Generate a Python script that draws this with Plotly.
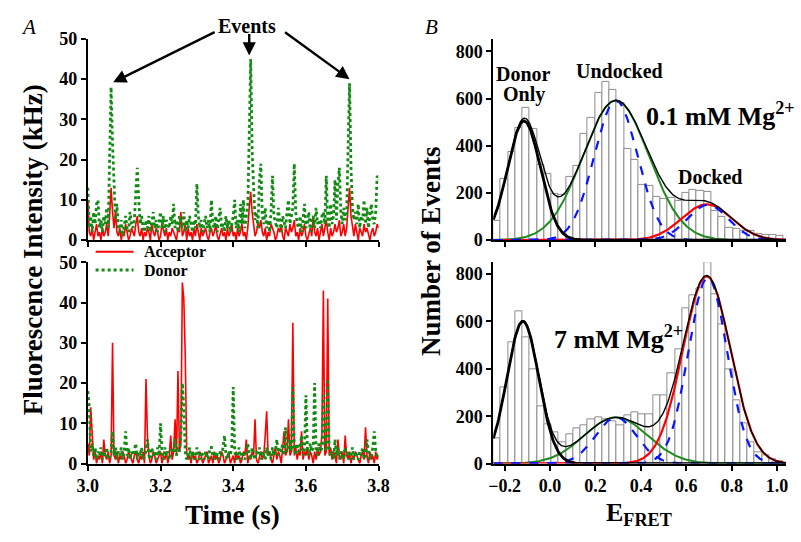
import numpy as np
import plotly.graph_objects as go

# ---------------- fluorescence traces (4 ms bins) ----------------
t_start, t_step, n_bins = 3.0, 0.004, 201
time_s = [round(t_start + t_step * i, 3) for i in range(n_bins)]

# 0.1 mM Mg2+ trace (upper panel), kHz
donor_low = [
    13, 3, 6, 2, 7, 4, 9, 10, 3, 5, 2, 6, 4, 8, 3, 26, 38, 24, 12, 5,
    9, 3, 2, 5, 1, 4, 6, 3, 2, 7, 4, 3, 5, 12, 18, 10, 4, 6, 3, 2,
    5, 3, 6, 2, 4, 7, 3, 5, 2, 4, 7, 3, 6, 2, 5, 4, 3, 6, 4, 9,
    3, 5, 2, 6, 4, 3, 7, 2, 5, 3, 6, 4, 2, 5, 3, 14, 6, 3, 5, 2,
    4, 6, 3, 5, 2, 10, 4, 3, 6, 2, 5, 8, 3, 4, 2, 6, 3, 5, 2, 4,
    6, 10, 3, 5, 2, 9, 4, 10, 3, 6, 8, 26, 45, 22, 12, 5, 7, 3, 15, 19,
    6, 4, 8, 3, 5, 2, 7, 16, 6, 4, 3, 8, 5, 2, 6, 4, 3, 7, 10, 4,
    6, 8, 19, 7, 4, 3, 6, 2, 5, 9, 3, 4, 7, 2, 5, 6, 3, 8, 4, 5,
    3, 6, 7, 4, 16, 5, 3, 9, 4, 6, 15, 5, 14, 18, 7, 4, 8, 5, 6, 26,
    39, 18, 8, 5, 7, 4, 9, 3, 6, 5, 10, 4, 8, 3, 6, 9, 5, 4, 7, 16, 15,
]
acceptor_low = [
    10, 2, 1, 3, 0, 2, 4, 1, 2, 0, 3, 1, 2, 4, 1, 6, 13, 7, 3, 7,
    2, 1, 3, 0, 2, 1, 4, 2, 0, 1, 3, 2, 1, 4, 6, 2, 1, 3, 0, 2,
    1, 3, 2, 0, 4, 2, 1, 3, 2, 0, 1, 4, 2, 1, 3, 0, 2, 1, 3, 2,
    1, 0, 3, 2, 7, 1, 2, 4, 0, 3, 1, 2, 0, 3, 1, 4, 2, 0, 3, 1,
    2, 3, 1, 0, 2, 3, 1, 2, 4, 1, 0, 2, 3, 1, 2, 0, 3, 1, 2, 4,
    1, 2, 0, 3, 1, 2, 4, 1, 2, 0, 3, 8, 12, 7, 3, 1, 2, 4, 3, 5,
    2, 1, 3, 0, 2, 1, 4, 3, 2, 0, 1, 3, 2, 4, 1, 0, 3, 2, 1, 4,
    2, 3, 5, 1, 2, 0, 3, 1, 2, 4, 1, 0, 2, 3, 1, 6, 2, 1, 3, 0,
    2, 4, 1, 3, 5, 2, 0, 3, 1, 2, 4, 2, 3, 5, 1, 2, 4, 1, 3, 8,
    13, 6, 3, 1, 4, 2, 0, 3, 2, 1, 4, 2, 3, 1, 0, 2, 3, 1, 2, 4, 3,
]

# 7 mM Mg2+ trace (lower panel), kHz
donor_high = [
    18, 14, 3, 5, 2, 4, 1, 3, 2, 4, 1, 3, 2, 4, 1, 2, 3, 8, 2, 4,
    1, 3, 2, 4, 1, 3, 8, 2, 4, 1, 3, 2, 4, 5, 1, 3, 2, 4, 1, 2,
    3, 6, 2, 1, 4, 2, 3, 1, 4, 2, 10, 3, 1, 4, 2, 3, 1, 2, 4, 3,
    6, 2, 4, 3, 7, 20, 14, 3, 1, 2, 4, 1, 3, 2, 1, 4, 2, 1, 3, 2,
    1, 3, 2, 1, 4, 4, 2, 1, 3, 2, 1, 3, 2, 4, 7, 2, 1, 3, 2, 4,
    19, 3, 1, 2, 4, 1, 3, 2, 1, 3, 5, 2, 1, 4, 2, 1, 3, 2, 4, 1,
    3, 2, 1, 4, 2, 3, 1, 4, 2, 3, 6, 2, 4, 3, 5, 2, 9, 3, 4, 6,
    3, 19, 4, 2, 5, 3, 4, 7, 2, 3, 17, 4, 2, 5, 3, 4, 20, 3, 2, 5,
    3, 4, 17, 5, 3, 21, 4, 2, 3, 1, 6, 2, 4, 1, 3, 2, 1, 4, 2, 3,
    1, 2, 4, 1, 3, 2, 1, 3, 2, 4, 1, 2, 6, 3, 1, 2, 4, 8, 3, 2, 1,
]
acceptor_high = [
    5, 2, 14, 8, 1, 3, 0, 2, 1, 3, 0, 6, 2, 1, 3, 0, 2, 30, 2, 1,
    3, 0, 2, 1, 3, 2, 0, 1, 3, 2, 1, 0, 2, 3, 1, 0, 2, 1, 3, 0,
    21, 7, 2, 0, 1, 3, 2, 0, 1, 2, 3, 0, 2, 1, 3, 0, 2, 7, 1, 3,
    11, 2, 23, 3, 5, 45, 41, 27, 3, 1, 2, 0, 3, 1, 2, 0, 1, 3, 2, 0,
    1, 2, 3, 0, 1, 2, 0, 3, 1, 2, 0, 1, 3, 2, 0, 1, 2, 3, 0, 1,
    2, 0, 3, 1, 2, 0, 1, 3, 2, 6, 0, 2, 1, 3, 2, 11, 1, 0, 2, 3,
    1, 2, 7, 13, 2, 3, 1, 0, 2, 4, 1, 3, 2, 0, 4, 8, 2, 3, 11, 2,
    3, 35, 2, 4, 1, 3, 2, 8, 1, 3, 2, 4, 1, 3, 2, 0, 3, 1, 4, 2,
    3, 7, 43, 2, 3, 41, 2, 4, 1, 3, 2, 0, 6, 2, 1, 3, 0, 7, 2, 1,
    3, 0, 2, 1, 3, 2, 1, 0, 2, 3, 1, 9, 2, 0, 3, 1, 2, 0, 3, 1, 2,
]

# ---------------- E_FRET histograms ----------------
bin_start, bin_width, n_hist = -0.25, 0.032, 40
efret_centers = [round(bin_start + bin_width * (i + 0.5), 4) for i in range(n_hist)]

counts_low = [
    82, 258, 374, 476, 562, 473, 321, 280, 195, 190,
    270, 314, 449, 520, 626, 670, 637, 580, 385, 340,
    235, 231, 184, 174, 181, 167, 200, 212, 208, 205,
    126, 100, 52, 48, 38, 40, 25, 22, 22, 18,
]
counts_high = [
    108, 321, 510, 643, 534, 396, 243, 165, 130, 90,
    122, 150, 160, 188, 195, 185, 180, 162, 205, 216,
    208, 210, 287, 290, 380, 480, 655, 710, 740, 847,
    714, 588, 396, 268, 172, 90, 48, 35, 18, 10,
]

# Gaussian fit components: (amplitude, centre, sigma)
fit_low = {
    "donor_only": (505, -0.115, 0.072),
    "undocked": (592, 0.29, 0.145),
    "undocked_narrow": (592, 0.29, 0.095),
    "docked": (152, 0.69, 0.11),
    "docked_narrow": (150, 0.695, 0.09),
}
fit_high = {
    "donor_only": (600, -0.12, 0.07),
    "undocked": (195, 0.29, 0.14),
    "undocked_narrow": (195, 0.29, 0.09),
    "docked": (790, 0.69, 0.105),
    "docked_narrow": (785, 0.695, 0.085),
}

E_RANGE = [-0.25, 1.04]
e_grid = np.linspace(E_RANGE[0], E_RANGE[1], 400)


def gauss(params):
    a, mu, s = params
    return a * np.exp(-((e_grid - mu) ** 2) / (2 * s ** 2))


W, H = 801, 542
SERIF = "Liberation Serif"
RED = "#ff0000"
GREEN = "#138a13"
BLUE = "#0a14ff"
DARKGREEN = "#1f8a1f"

fig = go.Figure()

# traces: upper and lower fluorescence panels
for acc, don, xa, ya in [
    (acceptor_low, donor_low, "x", "y"),
    (acceptor_high, donor_high, "x2", "y2"),
]:
    fig.add_trace(go.Scatter(x=time_s, y=acc, mode="lines", name="Acceptor",
                             line=dict(color=RED, width=1.6),
                             xaxis=xa, yaxis=ya, showlegend=False))
    fig.add_trace(go.Scatter(x=time_s, y=don, mode="lines", name="Donor",
                             line=dict(color=GREEN, width=2.8, dash="dot"),
                             xaxis=xa, yaxis=ya, showlegend=False))

# histograms with fitted components
for counts, fit, xa, ya in [
    (counts_low, fit_low, "x3", "y3"),
    (counts_high, fit_high, "x4", "y4"),
]:
    fig.add_trace(go.Bar(x=efret_centers, y=counts, width=bin_width,
                         marker=dict(color="white", line=dict(color="#8c8c8c", width=1)),
                         xaxis=xa, yaxis=ya, showlegend=False))
    total = gauss(fit["donor_only"]) + gauss(fit["undocked"]) + gauss(fit["docked"])
    comps = [
        (gauss(fit["undocked"]), dict(color=DARKGREEN, width=2)),
        (gauss(fit["docked"]), dict(color=RED, width=2.2)),
        (gauss(fit["undocked_narrow"]), dict(color=BLUE, width=2.2, dash="dash")),
        (gauss(fit["docked_narrow"]), dict(color=BLUE, width=2.2, dash="dash")),
        (gauss(fit["donor_only"]), dict(color="black", width=2.8)),
        (total, dict(color="black", width=1.4)),
    ]
    for yv, ln in comps:
        fig.add_trace(go.Scatter(x=e_grid, y=yv, mode="lines", line=ln,
                                 xaxis=xa, yaxis=ya, showlegend=False))

tickfont = dict(family=SERIF, size=18, color="black", weight="bold")
axis_common = dict(showline=True, linecolor="black", linewidth=2, ticks="outside",
                   ticklen=5, tickwidth=2, tickcolor="black", showgrid=False,
                   zeroline=False, tickfont=tickfont)

left_dom = [79 / W, 378 / W]
right_dom = [496 / W, 797 / W]
top_dom = [1 - 239 / H, 1 - 30 / H]
bot_dom = [1 - 471 / H, 1 - 262 / H]

fig.update_layout(
    width=W, height=H,
    margin=dict(l=0, r=0, t=0, b=0),
    paper_bgcolor="white", plot_bgcolor="white",
    bargap=0, showlegend=False,
    xaxis=dict(domain=left_dom, anchor="y", range=[3.0, 3.8], dtick=0.2,
               showticklabels=False, **axis_common),
    yaxis=dict(domain=top_dom, anchor="x", range=[0, 50], dtick=10, **axis_common),
    xaxis2=dict(domain=left_dom, anchor="y2", range=[3.0, 3.8], dtick=0.2,
                tickformat=".1f", **axis_common),
    yaxis2=dict(domain=bot_dom, anchor="x2", range=[0, 50], dtick=10, **axis_common),
    xaxis3=dict(domain=right_dom, anchor="y3", range=E_RANGE, dtick=0.2,
                tick0=0, showticklabels=False, **axis_common),
    yaxis3=dict(domain=top_dom, anchor="x3", range=[0, 853], dtick=200, **axis_common),
    xaxis4=dict(domain=right_dom, anchor="y4", range=E_RANGE, dtick=0.2,
                tick0=0, tickformat=".1f", **axis_common),
    yaxis4=dict(domain=bot_dom, anchor="x4", range=[0, 849], dtick=200, **axis_common),
)


def px(x, y):
    return x / W, 1 - y / H


def label(text, x, y, size, xanchor="center", italic=False, bold=True, angle=0):
    fx, fy = px(x, y)
    fig.add_annotation(
        x=fx, y=fy, xref="paper", yref="paper", text=text, showarrow=False,
        xanchor=xanchor, yanchor="middle", textangle=angle,
        font=dict(family=SERIF, size=size, color="black",
                  weight="bold" if bold else "normal",
                  style="italic" if italic else "normal"))


# key for the two traces (line sample + name)
for name, colour, width, dash, y in [("Acceptor", RED, 1.8, "solid", 251),
                                     ("Donor", GREEN, 3, "dot", 270)]:
    x0, y0 = px(87, y)
    x1, _ = px(126, y)
    fig.add_shape(type="line", xref="paper", yref="paper", x0=x0, x1=x1, y0=y0, y1=y0,
                  line=dict(color=colour, width=width, dash=dash))
    label(name, 135, y, 16, xanchor="left")

label("A", 18, 18, 21, italic=True, bold=False)
label("B", 432, 18, 21, italic=True, bold=False)
label("Events", 243, 17, 20)
label("Fluorescence Intensity (kHz)", 22, 249, 27, angle=-90)
label("Number of Events", 432, 250, 27, angle=-90)
label("Time (s)", 228, 524, 27)
label("E<sub>FRET</sub>", 646, 523, 26)
label("Donor", 527, 66, 20)
label("Only", 527, 88, 20)
label("Undocked", 626, 63, 20)
label("Docked", 719, 173, 20)
label("0.1 mM Mg<sup>2+</sup>", 651, 108, 26, xanchor="left")
label("7 mM Mg<sup>2+</sup>", 556, 340, 26, xanchor="left")

# arrows from "Events" to the three donor bursts
for tip_t, tip_v, dx, dy in [(3.0696, 39.2, 103, -51), (3.444, 45.9, 0, -23),
                             (3.72, 40.0, -66, -48)]:
    fig.add_annotation(x=tip_t, y=tip_v, xref="x", yref="y", ax=dx, ay=dy,
                       axref="pixel", ayref="pixel", text="", showarrow=True,
                       arrowhead=2, arrowsize=1.1, arrowwidth=2.4, arrowcolor="black")

fig.write_html("out.html")
